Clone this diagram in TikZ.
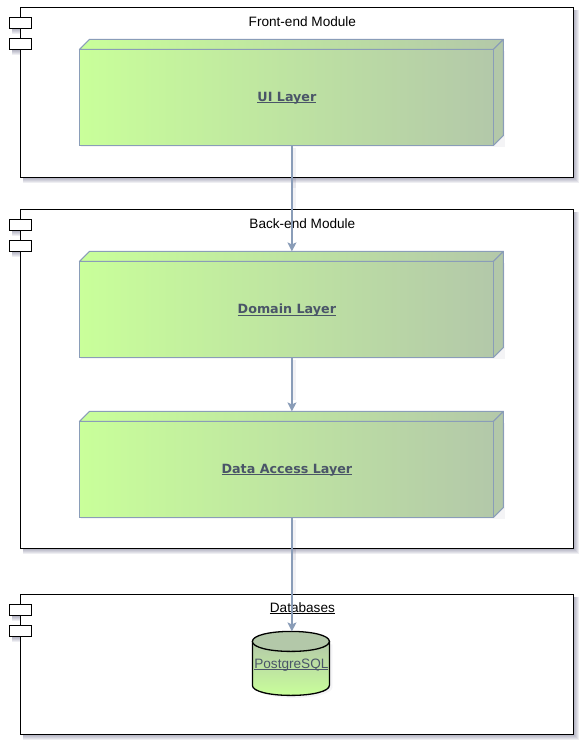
\documentclass[tikz,border=0pt]{standalone}
\usepackage{fontspec}
\setmainfont{Liberation Sans}
\newfontfamily\labelfont{DejaVu Sans}
\usetikzlibrary{arrows.meta}
\definecolor{edgeblue}{HTML}{8A9DB8}
\definecolor{lightgreen}{HTML}{C9FF9A}
\definecolor{darkgreen}{HTML}{B3C8A9}
\definecolor{labelgrey}{HTML}{4A5568}
\definecolor{shadowblue}{HTML}{30305A}
\newcommand{\ulbox}[1]{\setbox0\hbox{#1}\rlap{\copy0}\rule[-1.6pt]{\wd0}{0.8pt}}
\tikzset{
  x=1pt,y=-1pt,
  modulebox/.style={draw=black,line width=0.95pt,fill=white,inner sep=0pt,outer sep=0pt,anchor=north west},
  tabbox/.style={draw=black,line width=0.95pt,fill=white,inner sep=0pt,outer sep=0pt,anchor=north west,minimum width=22pt,minimum height=11pt},
  frontbox/.style={draw=edgeblue,line width=1pt,left color=lightgreen,right color=darkgreen,inner sep=0pt,outer sep=0pt,anchor=north west,minimum width=414pt,minimum height=96pt},
  slabtext/.style={font=\labelfont\bfseries\fontsize{12.7}{14}\selectfont,text=labelgrey,inner sep=0pt},
  facetop/.style={draw=edgeblue,line width=1pt,left color=lightgreen,right color=darkgreen,line join=round},
  faceside/.style={draw=edgeblue,line width=1pt,fill=darkgreen,line join=round},
  titletext/.style={font=\fontsize{13.6}{15}\selectfont,text=black,inner sep=0pt},
  conn/.style={draw=edgeblue,line width=1.2pt,-{Stealth[length=9pt,width=9pt,inset=2pt]}},
  connshadow/.style={draw=shadowblue,opacity=0.06,line width=3pt}
}
\newcommand{\softshadow}[4]{%
  \foreach \d in {6,5,4,3,2}{%
    \fill[shadowblue,opacity=0.08] (#1+3,#2+3) rectangle (#3+\d,#4+\d);}}
\newcommand{\slab}[3]{% name, x, y (front top-left)
  \fill[shadowblue,opacity=0.05] (#2+2,#3+2) rectangle (#2+426,#3+98);
  \fill[white] (#2+10,#3-10) rectangle (#2+424,#3+86);
  \path[facetop] (#2,#3) -- (#2+10,#3-10) -- (#2+424,#3-10) -- (#2+414,#3) -- cycle;
  \path[faceside] (#2+414,#3) -- (#2+424,#3-10) -- (#2+424,#3+86) -- (#2+414,#3+96) -- cycle;
}
\begin{document}
\begin{tikzpicture}
\useasboundingbox (0,0) rectangle (585,748);
\fill[white] (0,0) rectangle (585,748);
\begin{scope}[xshift=-0.6pt,yshift=0.6pt]
% modules
\softshadow{21}{8}{574}{178}
\softshadow{21}{210}{574}{549}
\softshadow{21}{595}{574}{735}
\softshadow{10}{18}{32}{29}
\softshadow{10}{39}{32}{50}
\softshadow{10}{220}{32}{231}
\softshadow{10}{241}{32}{252}
\softshadow{10}{605}{32}{616}
\softshadow{10}{626}{32}{637}
\node[modulebox,minimum width=553pt,minimum height=170pt] (m1) at (21,8) {};
\node[modulebox,minimum width=553pt,minimum height=339pt] (m2) at (21,210) {};
\node[modulebox,minimum width=553pt,minimum height=140pt] (m3) at (21,595) {};
\node[tabbox] (t1a) at (10,18) {};
\node[tabbox] (t1b) at (10,39) {};
\node[tabbox] (t2a) at (10,220) {};
\node[tabbox] (t2b) at (10,241) {};
\node[tabbox] (t3a) at (10,605) {};
\node[tabbox] (t3b) at (10,626) {};
\node[titletext] (l1) at (303,22) {Front-end Module};
\node[titletext] (l2) at (303,224) {Back-end Module};
\node[titletext] (l3) at (303,609) {\ulbox{Databases}};
% slabs
\slab{ui}{80}{50}
\slab{dom}{80}{262}
\slab{dal}{80}{422}
\node[frontbox] (ui) at (80,50) {};
\node[frontbox] (dom) at (80,262) {};
\node[frontbox] (dal) at (80,422) {};
\coordinate (domtop) at (292.5,252);
\coordinate (daltop) at (292.5,412);
\coordinate (dbtop) at (292.5,632);
\coordinate (uibot) at (292.5,146);
\coordinate (dombot) at (292.5,358);
\coordinate (dalbot) at (292.5,518);
% database
\fill[shadowblue,opacity=0.05] (256,645) -- (333,645) -- (333,688) arc[start angle=0,end angle=180,x radius=38.5pt,y radius=-10.5pt] -- cycle;
\path[draw=black,line width=1.3pt,top color=darkgreen,bottom color=lightgreen]
  (253,642) -- (253,686) .. controls (253,692) and (270,696) .. (291.5,696) .. controls (313,696) and (330,692) .. (330,686) -- (330,642) -- cycle;
\path[draw=black,line width=1.3pt,fill=darkgreen]
  (291.5,632) .. controls (313,632) and (330,636) .. (330,642) .. controls (330,648) and (313,652) .. (291.5,652) .. controls (270,652) and (253,648) .. (253,642) .. controls (253,636) and (270,632) .. (291.5,632) -- cycle;
% connectors
\foreach \a/\b in {295/149,295/361,295/521}{\draw[connshadow] (\a,\b) -- (\a,\b+40);}
\draw[connshadow] (295,178) -- (295,210);
\draw[connshadow] (295,549) -- (295,595);
\draw[conn] (uibot) -- (domtop);
\draw[conn] (dombot) -- (daltop);
\draw[conn] (dalbot) -- (dbtop);
% labels
\node[slabtext] (uil) at (287.5,99) {\ulbox{UI Layer}};
\node[slabtext] (doml) at (287.5,311) {\ulbox{Domain Layer}};
\node[slabtext] (dall) at (287.5,471) {\ulbox{Data Access Layer}};
\node[inner sep=0pt,font=\fontsize{13.6}{15}\selectfont,text=labelgrey] (pg) at (292,665.5) {\ulbox{PostgreSQL}};
\end{scope}
\end{tikzpicture}
\end{document}
